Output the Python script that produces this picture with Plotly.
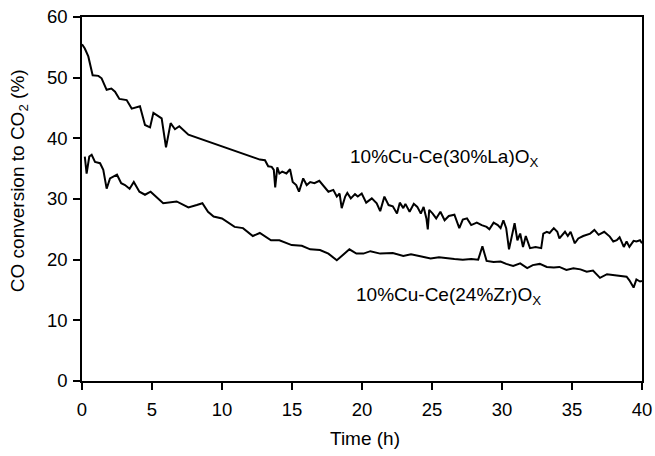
import plotly.graph_objects as go

# 10%Cu-Ce(30%La)Ox series
la_t = [0, 0.2, 0.45, 0.76, 1.17, 1.4, 1.76, 2.1, 2.36, 2.67, 3.19, 3.55, 4.14, 4.5, 4.86, 5.1,
        5.69, 6.0, 6.33, 6.64, 6.95, 7.6, 12.7, 13.07, 13.3, 13.55, 13.7, 13.8, 13.95, 14.1, 14.3,
        14.6, 14.86, 15.05, 15.3, 15.5, 15.8, 16.05, 16.3, 16.6, 16.95, 17.2, 17.6, 17.95, 18.2,
        18.4, 18.55, 18.8, 18.95, 19.2, 19.5, 19.7, 19.98, 20.3, 20.7, 21.05, 21.3, 21.6, 21.9,
        22.2, 22.5, 22.7, 22.95, 23.1, 23.4, 23.7, 23.95, 24.2, 24.4, 24.6, 24.7, 24.8, 25.05,
        25.3, 25.6, 25.9, 26.2, 26.6, 26.95, 27.2, 27.5, 27.8, 28.2, 28.55, 28.9, 29.1, 29.4,
        29.7, 29.9, 30.1, 30.3, 30.5, 30.8, 30.9, 31.1, 31.3, 31.5, 31.7, 32.0, 32.4, 32.8,
        32.95, 33.2, 33.4, 33.7, 33.95, 34.1, 34.5, 34.7, 34.9, 35.2, 35.45, 35.8, 36.3, 36.6,
        36.9, 37.3, 37.7, 37.95, 38.2, 38.4, 38.7, 38.9, 39.1, 39.4, 39.6, 39.86, 40.0]
la_v = [55.5, 54.8, 53.5, 50.4, 50.3, 49.9, 48.0, 48.2, 47.7, 46.5, 46.3, 44.9, 45.3, 42.2, 41.8, 44.2,
        43.3, 38.5, 42.5, 41.5, 42.0, 40.6, 36.5, 36.4, 35.4, 35.3, 34.8, 31.9, 35.2, 34.2, 34.5,
        34.2, 34.9, 32.8, 32.3, 31.2, 33.4, 32.3, 32.8, 32.6, 33.0, 32.3, 31.2, 31.5, 30.4,
        30.9, 28.5, 30.4, 31.0, 30.1, 30.8, 30.4, 30.9, 29.4, 30.1, 29.3, 28.0, 30.4, 29.0,
        28.8, 27.6, 29.4, 28.5, 29.2, 27.9, 29.2, 28.7, 27.6, 28.7, 26.8, 25.0, 28.2, 27.6,
        26.8, 27.9, 26.5, 27.2, 27.4, 25.2, 26.6, 26.8, 25.7, 26.1, 25.7, 25.4, 25.0, 26.1,
        25.7, 25.2, 26.5, 25.2, 21.7, 25.4, 26.0, 23.2, 24.3, 22.1, 23.9, 21.9, 22.1, 21.9,
        24.3, 24.6, 24.4, 25.2, 24.6, 23.5, 24.6, 23.9, 24.6, 22.7, 23.5, 23.9, 24.3, 24.9,
        24.1, 24.6, 23.8, 23.0, 23.2, 23.7, 22.1, 23.0, 22.1, 23.1, 23.0, 23.2, 22.7]

# 10%Cu-Ce(24%Zr)Ox series
zr_t = [0.2, 0.33, 0.52, 0.69, 0.93, 1.29, 1.52, 1.76, 2.0, 2.5, 2.8, 3.07, 3.4, 3.7, 4.1, 4.5,
        4.9, 5.3, 5.8, 6.76, 7.6, 8.2, 8.6, 9.0, 9.4, 10.0, 10.9, 11.5, 12.2, 12.7, 13.5, 14.1,
        14.98, 15.7, 16.3, 17.0, 17.6, 18.2, 18.7, 19.1, 19.6, 20.1, 20.6, 21.3, 22.2, 22.95,
        23.5, 24.1, 24.9, 25.5, 26.05, 26.6, 27.2, 27.8, 28.3, 28.6, 28.9, 29.4, 29.9, 30.3,
        30.8, 31.3, 31.8, 32.2, 32.7, 33.2, 33.7, 34.1, 34.6, 35.1, 35.6, 36.05, 36.5, 37.0,
        37.5, 37.95, 38.4, 38.9, 39.1, 39.4, 39.6, 39.86, 40.0]
zr_v = [37.0, 34.2, 37.0, 37.3, 36.1, 35.9, 34.8, 31.7, 33.4, 34.0, 32.6, 32.3, 31.7, 32.8, 31.2, 30.7,
        31.2, 30.4, 29.3, 29.6, 28.6, 29.0, 29.3, 27.9, 27.1, 26.8, 25.4, 25.2, 23.9, 24.4, 23.2, 23.2,
        22.4, 22.3, 21.7, 21.6, 21.0, 19.9, 20.9, 21.7, 21.0, 21.0, 21.4, 21.0, 21.1, 20.6,
        20.9, 20.6, 20.2, 20.4, 20.2, 20.1, 20.0, 20.1, 20.0, 22.2, 19.8, 19.6, 19.7, 19.3,
        18.95, 19.4, 18.6, 19.1, 19.3, 18.8, 18.7, 18.8, 18.3, 18.6, 18.4, 18.0, 18.2, 17.0,
        17.6, 17.5, 17.3, 17.2, 16.6, 15.4, 16.75, 16.4, 16.5]

x_ticks = [0, 5, 10, 15, 20, 25, 30, 35, 40]
y_ticks = [0, 10, 20, 30, 40, 50, 60]

FONT = "Arial, Liberation Sans, sans-serif"

fig = go.Figure()
fig.add_trace(go.Scatter(x=la_t, y=la_v, mode="lines",
                         line=dict(color="black", width=2), showlegend=False))
fig.add_trace(go.Scatter(x=zr_t, y=zr_v, mode="lines",
                         line=dict(color="black", width=2), showlegend=False))

fig.add_annotation(x=19.0, y=36.8, xref="x", yref="y", xanchor="left", yanchor="middle",
                   text="10%Cu-Ce(30%La)O<sub>X</sub>", showarrow=False,
                   font=dict(family=FONT, size=19, color="black"))
fig.add_annotation(x=19.4, y=14.0, xref="x", yref="y", xanchor="left", yanchor="middle",
                   text="10%Cu-Ce(24%Zr)O<sub>X</sub>", showarrow=False,
                   font=dict(family=FONT, size=19, color="black"))

# axis titles
fig.add_annotation(x=0.505, y=-0.157, xref="paper", yref="paper", xanchor="center",
                   yanchor="middle", text="Time (h)", showarrow=False,
                   font=dict(family=FONT, size=19, color="black"))
fig.add_annotation(x=-0.1125, y=0.549, xref="paper", yref="paper", xanchor="center",
                   yanchor="middle", text="CO conversion to CO<sub>2</sub> (%)",
                   textangle=-90, showarrow=False,
                   font=dict(family=FONT, size=19, color="black"))

axis_common = dict(showline=True, linecolor="black", linewidth=1.5, mirror=True,
                   ticks="outside", ticklen=7, tickwidth=1.5, tickcolor="black",
                   showgrid=False, zeroline=False, automargin=False,
                   tickfont=dict(family=FONT, size=18.5, color="black"))

fig.update_xaxes(range=[0, 40], tickvals=x_ticks, ticklabelstandoff=4, **axis_common)
fig.update_yaxes(range=[0, 60], tickvals=y_ticks, ticklabelstandoff=2, **axis_common)

fig.update_layout(width=655, height=456,
                  margin=dict(l=82, r=13, t=17, b=75, autoexpand=False),
                  plot_bgcolor="white", paper_bgcolor="white",
                  font=dict(family=FONT, size=18, color="black"))

fig.write_html("out.html")
